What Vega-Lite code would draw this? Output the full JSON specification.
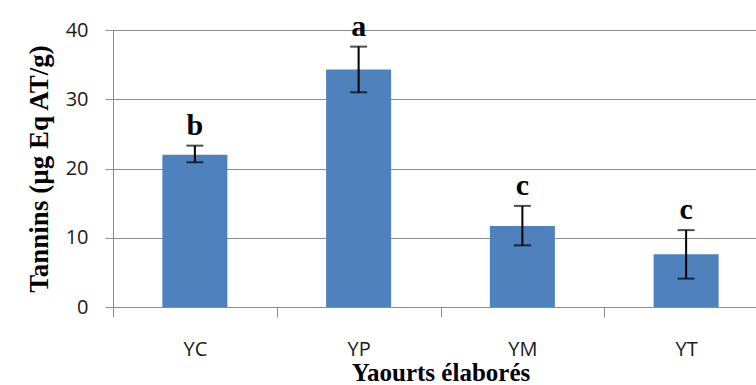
{
  "$schema": "https://vega.github.io/schema/vega-lite/v6.json",
  "autosize": {"type": "none"},
  "padding": {"left": 113, "top": 30, "right": 0, "bottom": 78},
  "width": 643,
  "height": 277,
  "background": "white",
  "config": {
    "view": {"stroke": null},
    "axis": {
      "labelFont": "Open Sans",
      "labelFontSize": 20,
      "labelColor": "#1a1a1a",
      "titleFont": "Liberation Serif",
      "titleFontWeight": "bold",
      "titleColor": "#000000",
      "domainColor": "#8c8c8c",
      "tickColor": "#8c8c8c",
      "gridColor": "#8c8c8c",
      "domainWidth": 1,
      "tickWidth": 1,
      "gridWidth": 1
    }
  },
  "data": {
    "values": [
      {"yaourt": "YC", "tanins": 22.0, "lo": 20.9, "hi": 23.3, "groupe": "b"},
      {"yaourt": "YP", "tanins": 34.3, "lo": 31.0, "hi": 37.6, "groupe": "a"},
      {"yaourt": "YM", "tanins": 11.7, "lo": 8.9, "hi": 14.6, "groupe": "c"},
      {"yaourt": "YT", "tanins": 7.6, "lo": 4.1, "hi": 11.1, "groupe": "c"}
    ]
  },
  "encoding": {
    "x": {
      "field": "yaourt",
      "type": "nominal",
      "sort": null,
      "scale": {"paddingInner": 0, "paddingOuter": 0, "range": [0, 655]},
      "axis": {
        "title": "Yaourts élaborés",
        "titleFontSize": 25,
        "titlePadding": 1,
        "labelAngle": 0,
        "tickBand": "extent",
        "tickSize": 10,
        "labelPadding": 22,
        "grid": false
      }
    }
  },
  "layer": [
    {
      "mark": {"type": "bar", "color": "#4f81bd", "width": {"band": 0.397}},
      "encoding": {
        "y": {
          "field": "tanins",
          "type": "quantitative",
          "scale": {"domain": [0, 40], "nice": false},
          "axis": {
            "title": "Tannins (µg Eq AT/g)",
            "titleFontSize": 27,
            "titlePadding": 12,
            "values": [0, 10, 20, 30, 40],
            "tickSize": 8,
            "labelPadding": 17,
            "grid": true
          }
        }
      }
    },
    {
      "mark": {"type": "rule", "color": "#000000", "strokeWidth": 2},
      "encoding": {
        "y": {"field": "lo", "type": "quantitative"},
        "y2": {"field": "hi"}
      }
    },
    {
      "mark": {"type": "tick", "color": "#000000", "thickness": 2, "size": 17, "orient": "horizontal"},
      "encoding": {"y": {"field": "lo", "type": "quantitative"}}
    },
    {
      "mark": {"type": "tick", "color": "#000000", "thickness": 2, "size": 17, "orient": "horizontal"},
      "encoding": {"y": {"field": "hi", "type": "quantitative"}}
    },
    {
      "mark": {"type": "text", "font": "Liberation Serif", "fontWeight": "bold", "fontSize": 30, "baseline": "alphabetic", "dy": -11, "color": "#000000"},
      "encoding": {
        "y": {"field": "hi", "type": "quantitative"},
        "text": {"field": "groupe"}
      }
    }
  ]
}
